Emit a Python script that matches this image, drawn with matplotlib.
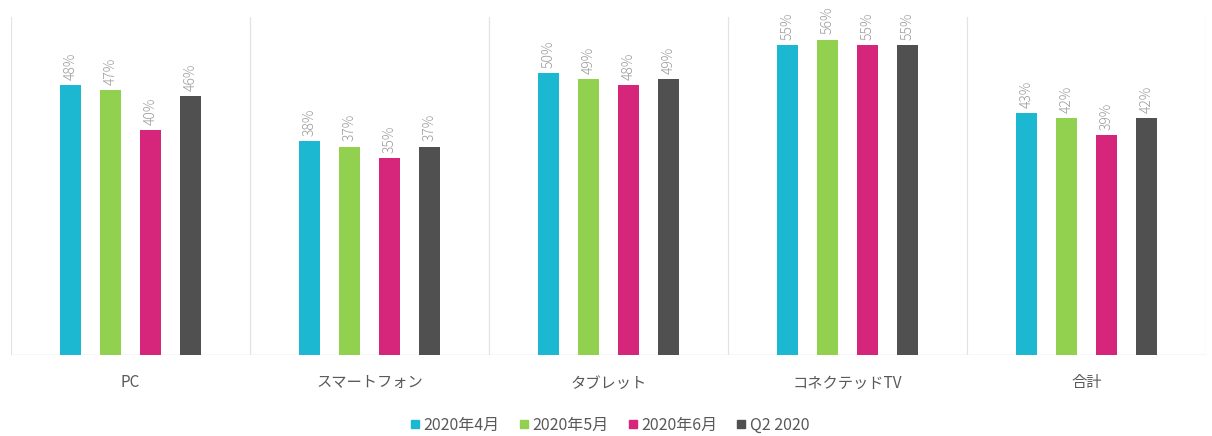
import numpy as np
import matplotlib.pyplot as plt
from matplotlib.lines import Line2D

plt.rcParams['font.family'] = ['Noto Sans CJK JP', 'DejaVu Sans']

categories = ["PC", "スマートフォン", "タブレット", "コネクテッドTV", "合計"]
series = ["2020年4月", "2020年5月", "2020年6月", "Q2 2020"]
apr = [48, 38, 50, 55, 43]
may = [47, 37, 49, 56, 42]
jun = [40, 35, 48, 55, 39]
q2 = [46, 37, 49, 55, 42]
colors = ["#1cb8d2", "#92d050", "#d6267b", "#505050"]

values = [apr, may, jun, q2]
x = np.arange(len(categories))
step = 0.168
width = 0.088

fig = plt.figure(figsize=(12.12, 4.36), dpi=100)
ax = fig.add_axes([11 / 1212, 81 / 436, 1195 / 1212, 338 / 436])

for i, (vals, col) in enumerate(zip(values, colors)):
    pos = x + (i - 1.5) * step
    bars = ax.bar(pos, vals, width, color=col, zorder=3)
    for b, v in zip(bars, vals):
        ax.text(b.get_x() + b.get_width() / 2, v + 0.9, f"{v}%", rotation=90,
                ha="center", va="bottom", fontsize=10, color="#999999",
                fontweight="light")

ax.set_xlim(-0.5, len(categories) - 0.5)
ax.set_ylim(0, 60)
for k in range(len(categories) + 1):
    ax.axvline(k - 0.5, color="#e3e3e3", lw=0.9, zorder=1)
ax.axhline(0, color="#d9d9d9", lw=1.0, zorder=2)
for s in ax.spines.values():
    s.set_visible(False)
ax.set_yticks([])
ax.set_xticks(x)
ax.set_xticklabels(categories, fontsize=11, color="#595959")
ax.tick_params(axis="x", length=0, pad=14)

handles = [Line2D([], [], marker="s", ls="", color=c, markersize=5.5) for c in colors]
fig.legend(handles, series, loc="center", bbox_to_anchor=(609 / 1212, 1 - 425 / 436),
           ncol=4, frameon=False, fontsize=11.5, handletextpad=0.15, handlelength=0.8,
           columnspacing=1.1, labelcolor="#595959")

fig.savefig("out.png", dpi=100)
